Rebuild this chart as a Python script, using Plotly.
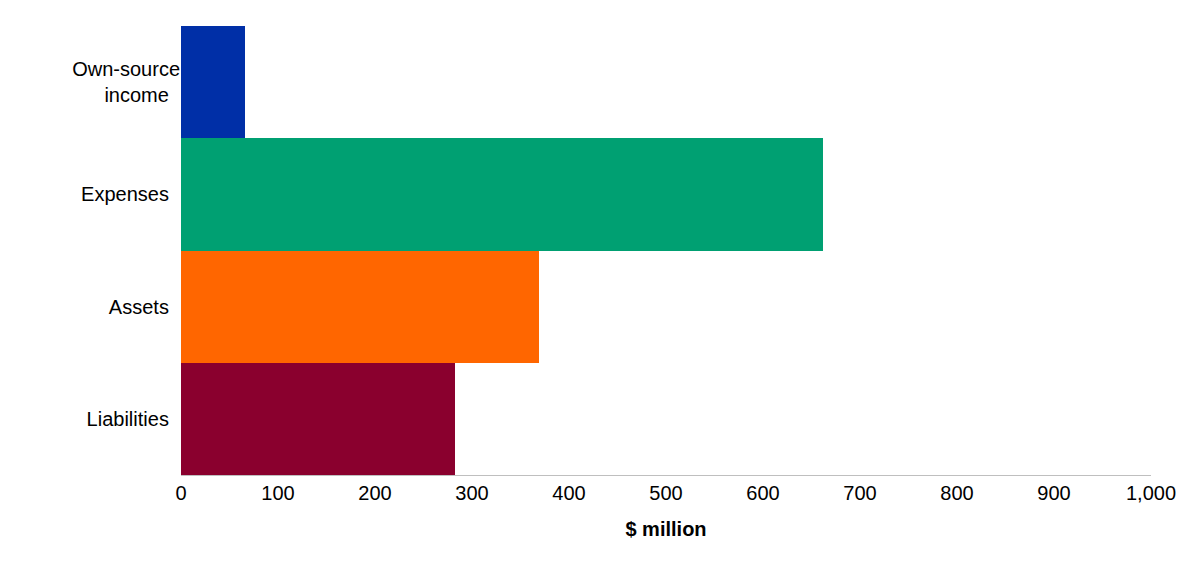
import plotly.graph_objects as go

categories = ["Own-source<br>income", "Expenses", "Assets", "Liabilities"]
values = [66, 662, 369, 282]
colours = ["#002FA7", "#00A072", "#FF6600", "#8A002E"]

fig = go.Figure()
fig.add_trace(go.Bar(
    y=categories, x=values, orientation="h",
    marker=dict(color=colours, line=dict(width=0)),
))

fig.update_layout(
    width=1200, height=564,
    margin=dict(l=173, r=57, t=18, b=97),
    plot_bgcolor="white", paper_bgcolor="white",
    bargap=0, showlegend=False,
    font=dict(family="Liberation Sans, Arial", size=20, color="#000000"),
)
fig.update_xaxes(
    range=[0, 1000], tickvals=list(range(0, 1001, 100)),
    tickformat=",", showgrid=False, zeroline=False,
    showline=True, linecolor="#BFBFBF", linewidth=1,
    title=dict(text="<b>$ million</b>", font=dict(size=20), standoff=18),
    ticklen=0,
)
fig.update_yaxes(
    autorange="reversed", showgrid=False, ticks="", ticksuffix="  ",
)

fig.write_html("out.html")
